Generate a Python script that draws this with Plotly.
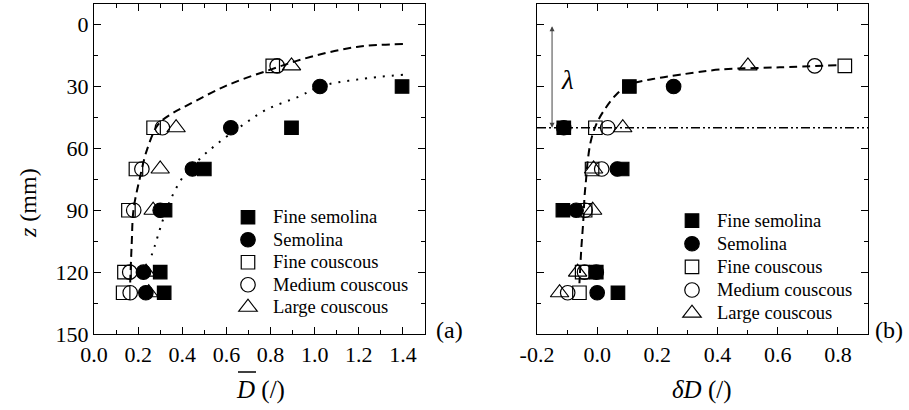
import plotly.graph_objects as go

# ---------------- data ----------------
z_semo = [30, 50, 70, 90, 120, 130]
z_cous = [20, 50, 70, 90, 120, 130]

# Panel (a): mean D
Dm_fine_semolina = [1.396, 0.895, 0.50, 0.322, 0.30, 0.318]
Dm_semolina = [1.024, 0.62, 0.446, 0.30, 0.224, 0.235]
Dm_fine_couscous = [0.81, 0.27, 0.19, 0.156, 0.138, 0.132]
Dm_medium_couscous = [0.83, 0.31, 0.217, 0.18, 0.162, 0.164]
Dm_large_couscous = [0.895, 0.372, 0.30, 0.268, 0.236, 0.248]

# Panel (b): delta D
dD_fine_semolina = [0.107, -0.111, 0.083, -0.114, -0.003, 0.069]
dD_semolina = [0.254, -0.111, 0.067, -0.07, -0.003, 0.0]
dD_fine_couscous = [0.823, -0.006, -0.017, -0.04, -0.05, -0.059]
dD_medium_couscous = [0.723, 0.035, 0.015, -0.04, -0.042, -0.098]
dD_large_couscous = [0.501, 0.085, -0.012, -0.015, -0.065, -0.125]

# fitted curves
fitA_cous_D = [1.40, 1.19, 0.98, 0.80, 0.60, 0.42, 0.345, 0.29, 0.24, 0.206, 0.179, 0.171, 0.164]
fitA_cous_z = [9.4, 10.8, 15.7, 21.8, 29.6, 39.3, 43.7, 48.5, 60.7, 75.2, 89.8, 106, 125]
fitA_semo_D = [1.40, 1.20, 1.024, 0.93, 0.78, 0.67, 0.556, 0.48, 0.405, 0.343, 0.30, 0.277, 0.251]
fitA_semo_z = [24.3, 26.5, 30.0, 34.8, 41.3, 49.0, 58.0, 65.0, 73.6, 85.8, 98.7, 106.8, 114.9]
fitB_D = [0.795, 0.607, 0.407, 0.274, 0.185, 0.107, 0.063, 0.024, -0.001, -0.02, -0.031, -0.037, -0.042, -0.046, -0.053, -0.059]
fitB_z = [19.7, 20.7, 21.8, 24.3, 26.4, 29.1, 34.0, 41.3, 47.7, 55.8, 65.5, 75.2, 83.3, 94.7, 109.2, 125.4]

lambda_z = 50
xA_ticks = [0.0, 0.2, 0.4, 0.6, 0.8, 1.0, 1.2, 1.4]
xA_labels = ["0.0", "0.2", "0.4", "0.6", "0.8", "1.0", "1.2", "1.4"]
xB_ticks = [-0.2, 0.0, 0.2, 0.4, 0.6, 0.8]
xB_labels = ["-0.2", "0.0", "0.2", "0.4", "0.6", "0.8"]
y_ticks = [0, 30, 60, 90, 120, 150]

names = ["Fine semolina", "Semolina", "Fine couscous", "Medium couscous", "Large couscous"]
symbols = ["square", "circle", "square-open", "circle-open", "triangle-up-open"]
sizes = [13.5, 14.5, 13.5, 14.5, 16]

FONT = "Liberation Serif"

fig = go.Figure()

# curves
fig.add_trace(go.Scatter(x=fitA_cous_D, y=fitA_cous_z, mode="lines", line=dict(color="black", width=2, dash="8px,5px", shape="spline"), showlegend=False, xaxis="x", yaxis="y"))
fig.add_trace(go.Scatter(x=fitA_semo_D, y=fitA_semo_z, mode="lines", line=dict(color="black", width=2, dash="2px,7px", shape="spline"), showlegend=False, xaxis="x", yaxis="y"))
fig.add_trace(go.Scatter(x=fitB_D, y=fitB_z, mode="lines", line=dict(color="black", width=2, dash="8px,5px", shape="spline"), showlegend=False, xaxis="x2", yaxis="y2"))
fig.add_trace(go.Scatter(x=[-0.2, 0.9], y=[lambda_z, lambda_z], mode="lines", line=dict(color="black", width=1.5, dash="9px,3px,2px,3px,2px,3px"), showlegend=False, xaxis="x2", yaxis="y2"))

A = [Dm_fine_semolina, Dm_semolina, Dm_fine_couscous, Dm_medium_couscous, Dm_large_couscous]
B = [dD_fine_semolina, dD_semolina, dD_fine_couscous, dD_medium_couscous, dD_large_couscous]
Z = [z_semo, z_semo, z_cous, z_cous, z_cous]

def lname(n):
    return "<span style='font-size:18.5px'>" + n + "</span>"

draw_order = [1, 0, 2, 3, 4]  # semolina drawn beneath fine semolina
for i in draw_order:
    mk = dict(symbol=symbols[i], size=sizes[i], color="black", line=dict(color="black", width=1.2))
    fig.add_trace(go.Scatter(x=A[i], y=Z[i], mode="markers", marker=mk, name=lname(names[i]),
                             legend="legend", legendrank=100 + i, xaxis="x", yaxis="y"))
for i in draw_order:
    mk = dict(symbol=symbols[i], size=sizes[i], color="black", line=dict(color="black", width=1.2))
    fig.add_trace(go.Scatter(x=B[i], y=Z[i], mode="markers", marker=mk, name=lname(names[i]),
                             legend="legend2", legendrank=100 + i, xaxis="x2", yaxis="y2"))

L, R, T, Bm = 94, 41, 4, 76
W, H = 909, 410
pw, ph = W - L - R, H - T - Bm

def px(x):
    return (x - L) / pw

def py(y):
    return (H - Bm - y) / ph

axis_common = dict(showline=True, linecolor="black", linewidth=1.3, mirror="allticks",
                   ticks="inside", ticklen=7, tickwidth=1.2, tickcolor="black",
                   showgrid=False, zeroline=False,
                   tickfont=dict(family=FONT, size=22, color="black"))

fig.update_layout(
    width=W, height=H,
    margin=dict(l=L, r=R, t=T, b=Bm),
    paper_bgcolor="white", plot_bgcolor="white",
    font=dict(family=FONT, color="black"),
    xaxis=dict(domain=[0, px(425)], range=[0, 1.5], tickvals=xA_ticks, ticktext=xA_labels,
               minor=dict(ticks="inside", dtick=0.1, tick0=0, ticklen=4, tickcolor="black", showgrid=False),
               anchor="y", **axis_common),
    yaxis=dict(domain=[0, 1], range=[150, -10], tickvals=y_ticks,
               minor=dict(ticks="inside", dtick=15, tick0=0, ticklen=4, tickcolor="black", showgrid=False),
               anchor="x", **axis_common),
    xaxis2=dict(domain=[px(537), 1], range=[-0.2, 0.9], tickvals=xB_ticks, ticktext=xB_labels,
                minor=dict(ticks="inside", dtick=0.1, tick0=0, ticklen=4, tickcolor="black", showgrid=False),
                anchor="y2", **axis_common),
    yaxis2=dict(domain=[0, 1], range=[150, -10], tickvals=y_ticks, showticklabels=False,
                minor=dict(ticks="inside", dtick=15, tick0=0, ticklen=4, tickcolor="black", showgrid=False),
                anchor="x2", **axis_common),
    legend=dict(x=px(223), y=py(201), xanchor="left", yanchor="top", bgcolor="rgba(0,0,0,0)",
                font=dict(family=FONT, size=15, color="black"), tracegroupgap=0, itemsizing="trace",
                itemwidth=40),
    legend2=dict(x=px(667), y=py(204), xanchor="left", yanchor="top", bgcolor="rgba(0,0,0,0)",
                 font=dict(family=FONT, size=15.5, color="black"), tracegroupgap=0, itemsizing="trace",
                 itemwidth=40),
    showlegend=True,
)

ann = []
ann.append(dict(text="<i>z</i> (mm)", x=px(28), y=py(203), xref="paper", yref="paper", showarrow=False,
                textangle=-90, font=dict(family=FONT, size=24), xanchor="center", yanchor="middle"))
ann.append(dict(text="<i>D</i> (/)", x=px(260), y=py(390), xref="paper", yref="paper", showarrow=False,
                font=dict(family=FONT, size=25), xanchor="center", yanchor="middle"))
ann.append(dict(text="<i>δD</i> (/)", x=px(702), y=py(390), xref="paper", yref="paper", showarrow=False,
                font=dict(family=FONT, size=25), xanchor="center", yanchor="middle"))
ann.append(dict(text="(a)", x=px(449), y=py(330), xref="paper", yref="paper", showarrow=False,
                font=dict(family=FONT, size=24), xanchor="center", yanchor="middle"))
ann.append(dict(text="(b)", x=px(889), y=py(330), xref="paper", yref="paper", showarrow=False,
                font=dict(family=FONT, size=24), xanchor="center", yanchor="middle"))
ann.append(dict(text="<i>λ</i>", x=-0.099, y=26.7, xref="x2", yref="y2", showarrow=False,
                font=dict(family=FONT, size=27), xanchor="center", yanchor="middle"))
ann.append(dict(text="", x=-0.15, y=lambda_z, ax=-0.15, ay=0, xref="x2", yref="y2", axref="x2", ayref="y2",
                showarrow=True, arrowhead=2, startarrowhead=2, arrowside="end+start", arrowsize=1,
                arrowwidth=1, arrowcolor="#444", standoff=0, startstandoff=0))
fig.update_layout(annotations=ann)

# overline on D
fig.add_shape(type="line", xref="paper", yref="paper", x0=px(238), x1=px(256), y0=py(372), y1=py(372),
              line=dict(color="black", width=1.5))

fig.write_html("out.html", config={"displayModeBar": False},
               post_script="document.body.style.margin='0';")
